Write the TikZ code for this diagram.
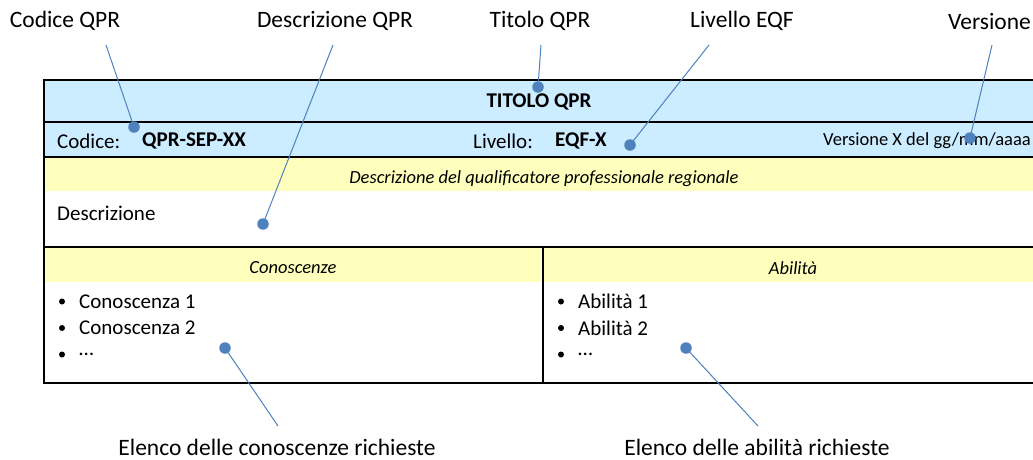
\documentclass[tikz,border=0pt]{standalone}
\usepackage{fontspec}
\setmainfont{Carlito}
\definecolor{hdrblue}{RGB}{204,236,255}
\definecolor{hdryellow}{RGB}{255,255,189}
\definecolor{callout}{RGB}{79,129,189}
\begin{document}
\begin{tikzpicture}[x=1pt,y=-1pt,
  lbl/.style={inner sep=0pt,font=\fontsize{23.5}{28}\selectfont},
  cell/.style={inner sep=0pt,font=\fontsize{21}{25}\selectfont},
  small/.style={inner sep=0pt,font=\fontsize{18.5}{22}\selectfont},
  dot/.style={circle,fill=callout,inner sep=0pt,minimum size=11.5pt},
  bul/.style={circle,fill=black,inner sep=0pt,minimum size=6pt},
  lead/.style={draw=callout,line width=1pt},
  rule/.style={draw=black,line width=1.3pt}]
\useasboundingbox (0,0) rectangle (1033,459);
% fills
\fill[hdrblue] (44,80) rectangle (1033,157);
\fill[hdryellow] (44,157) rectangle (1033,191);
\fill[hdryellow] (44,247) rectangle (1033,282);
% rules
\draw[rule] (1033,80) -- (44,80) -- (44,383) -- (1033,383);
\draw[rule] (44,122) -- (1033,122);
\draw[rule] (44,157) -- (1033,157);
\draw[rule] (44,247) -- (1033,247);
\draw[rule] (543,247) -- (543,383);
% table texts
\node[cell,font=\fontsize{21}{25}\selectfont\bfseries] (title) at (539,102) {TITOLO QPR};
\node[cell,anchor=west] (codlab) at (57,141) {Codice:};
\node[cell,anchor=west,font=\fontsize{21}{25}\selectfont\bfseries] (codval) at (142,141) {QPR-SEP-XX};
\node[cell,anchor=west] (livlab) at (473,141) {Livello:};
\node[cell,anchor=west,font=\fontsize{21}{25}\selectfont\bfseries] (livval) at (555,141) {EQF-X};
\node[small,anchor=east] (vers) at (1031,141) {Versione X del gg/mm/aaaa};
\node[small,font=\fontsize{18.5}{22}\selectfont\itshape] (deschdr) at (544,179) {Descrizione del qualificatore professionale regionale};
\node[cell,anchor=west] (desc) at (57,213) {Descrizione};
\node[small,font=\fontsize{18.5}{22}\selectfont\itshape] (conhdr) at (293,268) {Conoscenze};
\node[small,font=\fontsize{18.5}{22}\selectfont\itshape] (abihdr) at (793,268) {Abilità};
% lists
\foreach \t [count=\i] in {Conoscenza 1,Conoscenza 2,…}{
  \node[bul] (cb\i) at (62,{275+26.5*\i}) {};
  \node[cell,anchor=west] (ct\i) at (79,{275+26.5*\i}) {\t};
}
\foreach \t [count=\i] in {Abilità 1,Abilità 2,…}{
  \node[bul] (ab\i) at (561,{275+26.5*\i}) {};
  \node[cell,anchor=west] (at\i) at (578,{275+26.5*\i}) {\t};
}
% callout labels
\node[lbl] (lcod) at (65,21) {Codice QPR};
\node[lbl] (ldesc) at (335,21) {Descrizione QPR};
\node[lbl] (ltit) at (540,21) {Titolo QPR};
\node[lbl] (lliv) at (742,21) {Livello EQF};
\node[lbl,anchor=east] (lver) at (1031,21) {Versione};
\node[lbl] (lcon) at (277,447) {Elenco delle conoscenze richieste};
\node[lbl] (labi) at (757,447) {Elenco delle abilità richieste};
% callout ends
\coordinate (scod) at (106,45);
\coordinate (sdesc) at (333,45);
\coordinate (stit) at (541,45);
\coordinate (sliv) at (709,45);
\coordinate (sver) at (992,45);
\coordinate (scon) at (278,426);
\coordinate (sabi) at (758,426);
% dots
\node[dot] (dcod) at (134,127) {};
\node[dot] (ddesc) at (263,224) {};
\node[dot] (dtit) at (538,87) {};
\node[dot] (dliv) at (630,145) {};
\node[dot] (dver) at (970,138) {};
\node[dot] (dcon) at (225,348) {};
\node[dot] (dabi) at (686,348) {};
% leaders
\draw[lead] (scod) -- (dcod.center);
\draw[lead] (sdesc) -- (ddesc.center);
\draw[lead] (stit) -- (dtit.center);
\draw[lead] (sliv) -- (dliv.center);
\draw[lead] (sver) -- (dver.center);
\draw[lead] (scon) -- (dcon.center);
\draw[lead] (sabi) -- (dabi.center);
\end{tikzpicture}
\end{document}
